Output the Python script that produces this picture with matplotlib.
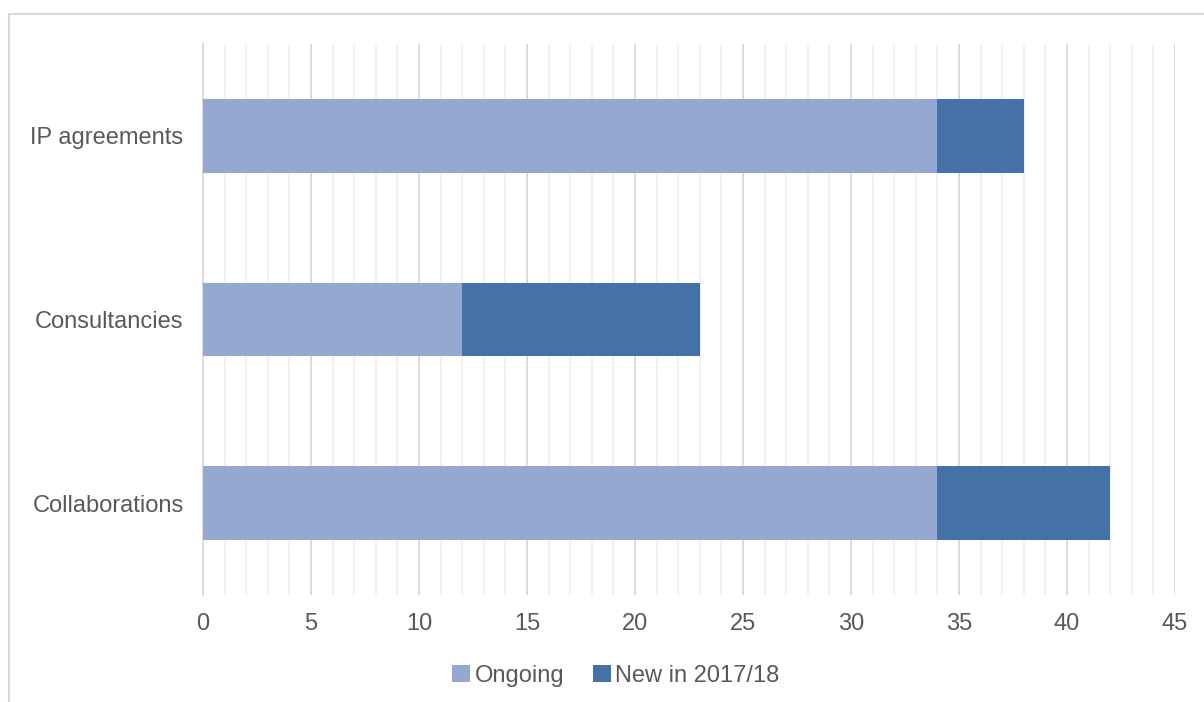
import numpy as np
import matplotlib.pyplot as plt
from matplotlib.patches import Rectangle

categories = ['Collaborations', 'Consultancies', 'IP agreements']
ongoing = [34, 12, 34]
new_1718 = [8, 11, 4]
series_names = ['Ongoing', 'New in 2017/18']
xticks = list(range(0, 50, 5))

plt.rcParams['font.family'] = ['Liberation Sans', 'DejaVu Sans']

fig = plt.figure(figsize=(12.04, 7.02), dpi=100)
ax = fig.add_axes([203/1204, 1-595/702, 972/1204, 551/702])

# outer chart border (cut off at right and bottom in the original)
fig.patches.append(Rectangle((9/1204, -0.05), 1.2, 1 - 14/702 + 0.05,
                             transform=fig.transFigure, fill=False,
                             edgecolor='#D9D9D9', linewidth=1.5))

y = np.arange(len(categories))
ax.barh(y, ongoing, height=0.4, color='#95A9D0', label=series_names[0], zorder=3)
ax.barh(y, new_1718, left=ongoing, height=0.4, color='#4472A6',
        label=series_names[1], zorder=3)

ax.set_xlim(0, 45)
ax.set_ylim(-0.5, 2.5)
ax.set_xticks(xticks)
ax.set_xticks(np.arange(0, 46, 1), minor=True)
ax.set_yticks(y)
ax.set_yticklabels(categories)

ax.grid(axis='x', which='major', color='#D9D9D9', linewidth=1.3, zorder=0)
ax.grid(axis='x', which='minor', color='#F0F0F0', linewidth=1.3, zorder=0)
for s in ['top', 'right', 'bottom']:
    ax.spines[s].set_visible(False)
ax.spines['left'].set_color('#D9D9D9')
ax.spines['left'].set_linewidth(1.3)

ax.tick_params(axis='both', which='both', length=0, labelsize=17,
               labelcolor='#595959')
ax.tick_params(axis='x', pad=13)
ax.tick_params(axis='y', pad=14)

leg = fig.legend(loc='center', bbox_to_anchor=(616/1204, 1-676/702), ncol=2,
                 frameon=False, fontsize=17, handlelength=0.75, handleheight=0.75,
                 handletextpad=0.2, columnspacing=1.2)
for t in leg.get_texts():
    t.set_color('#595959')

fig.savefig('out.png', dpi=100)
